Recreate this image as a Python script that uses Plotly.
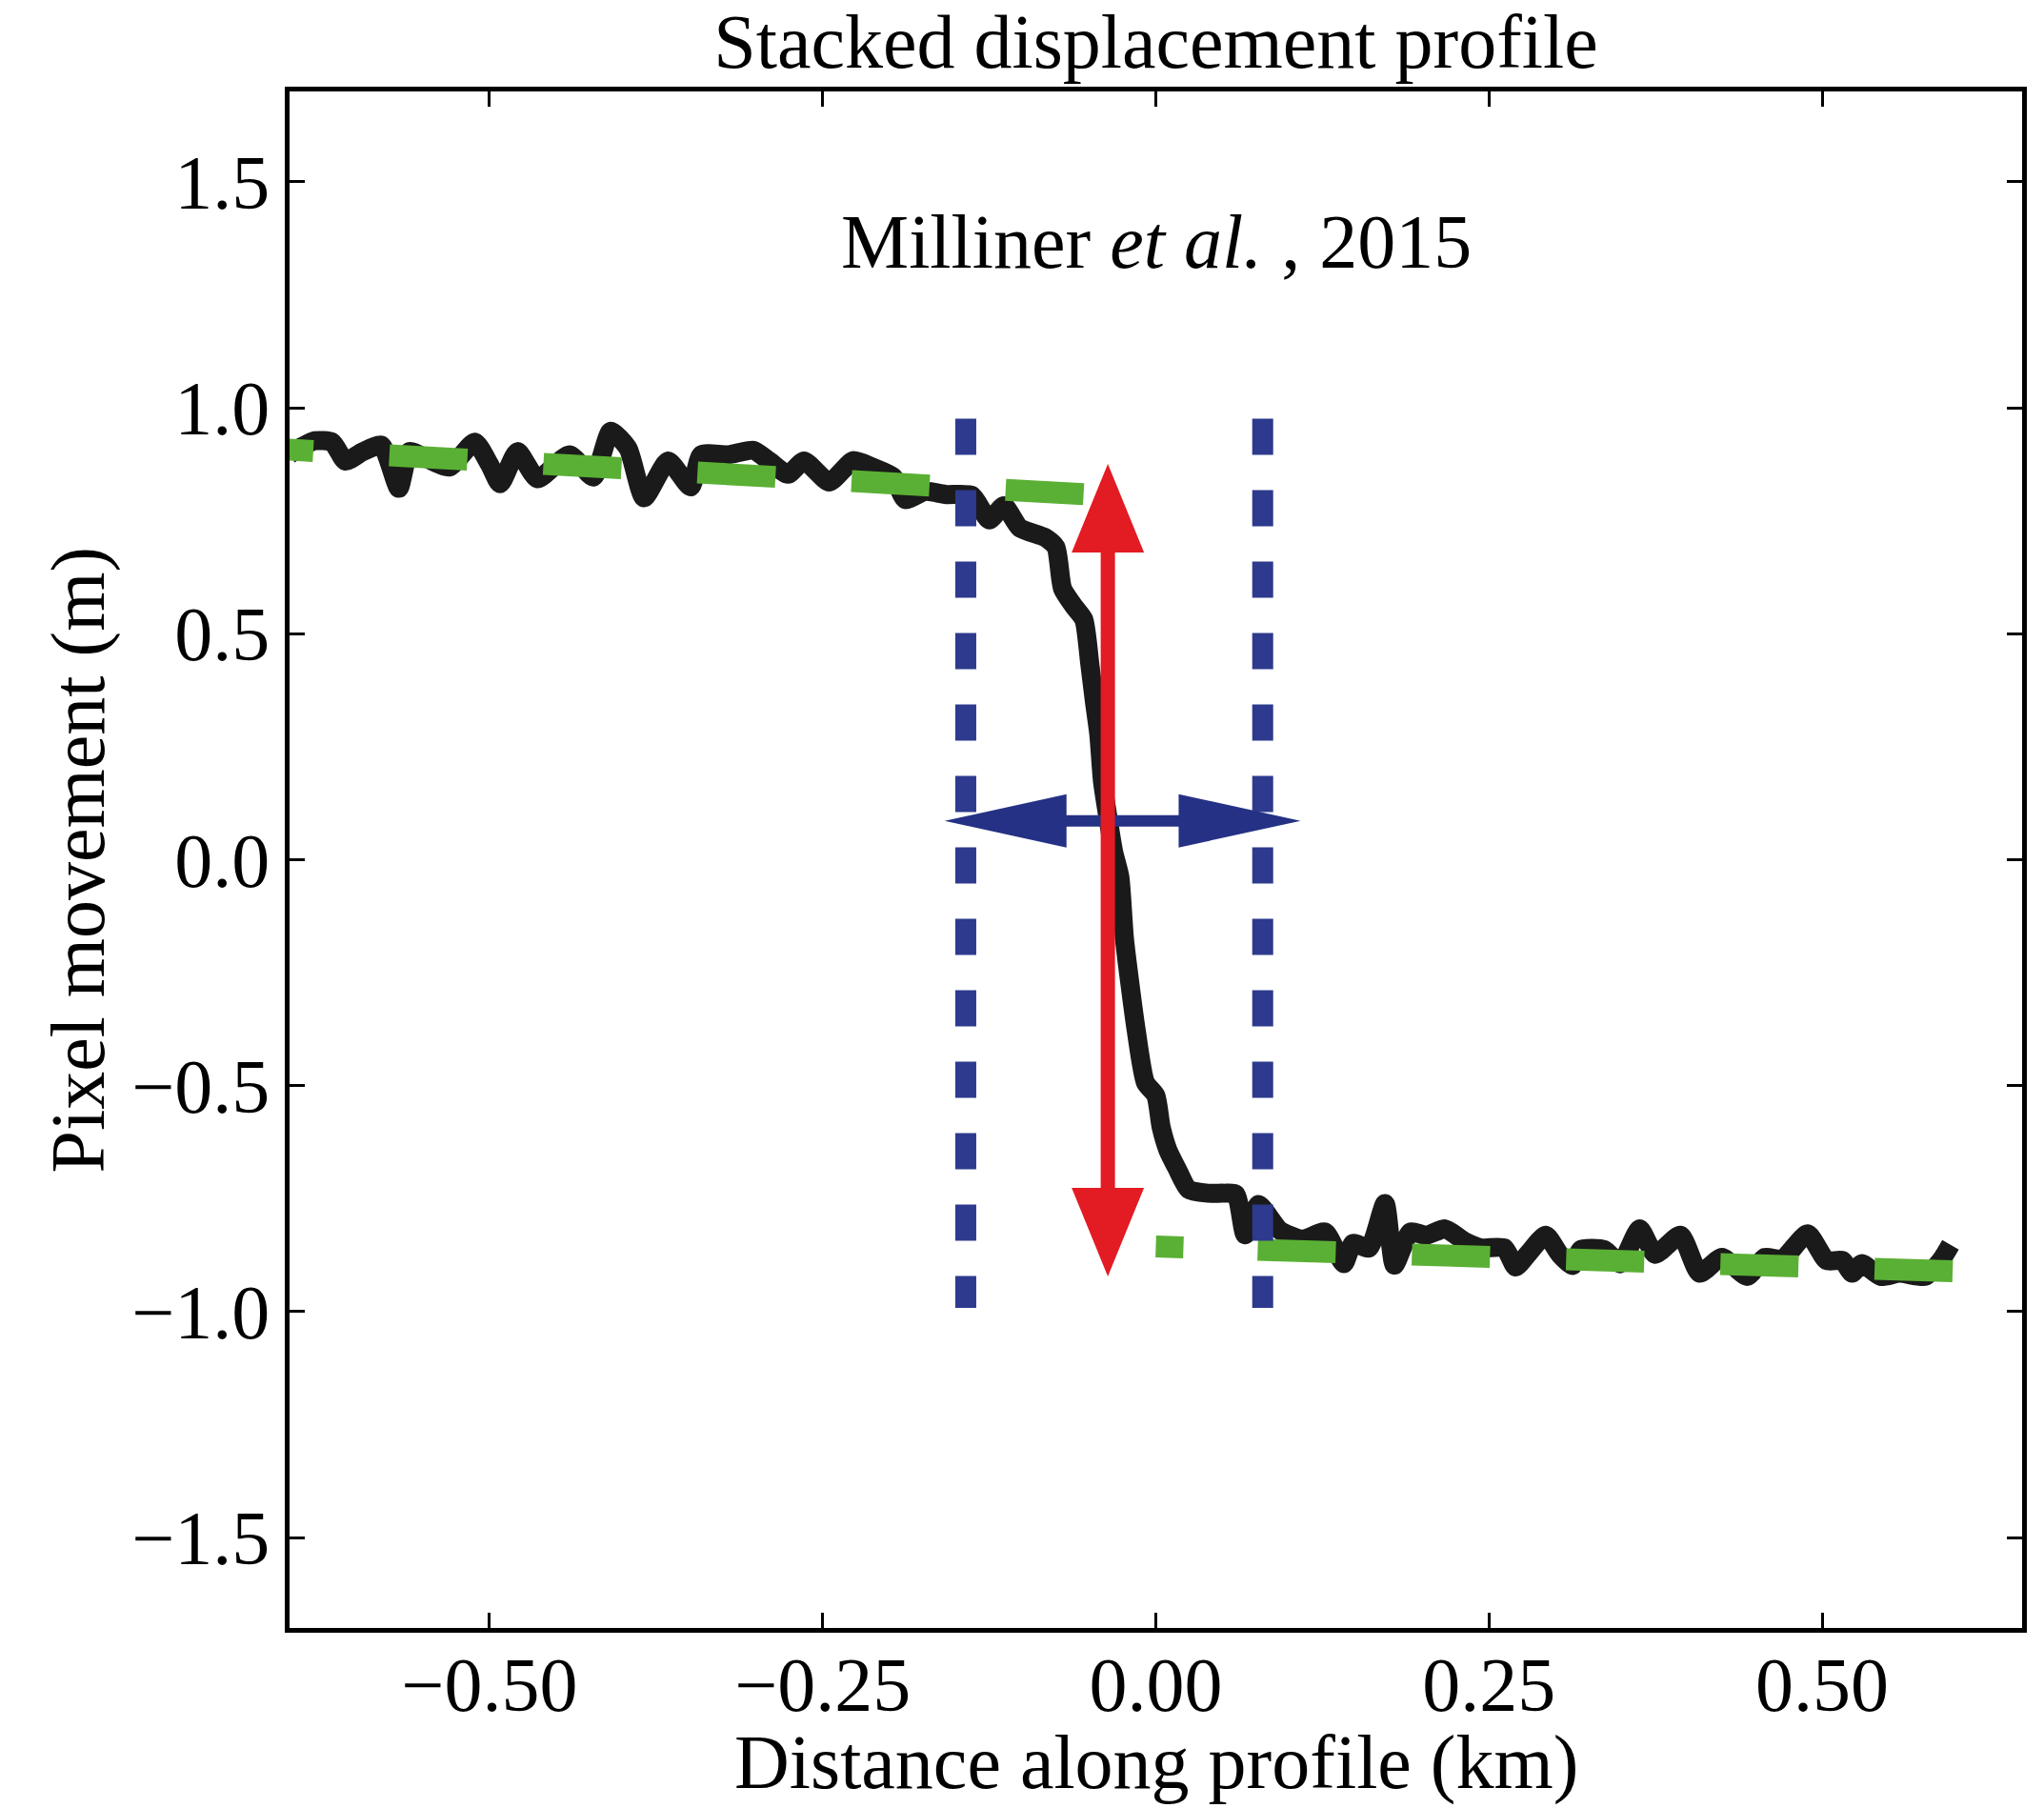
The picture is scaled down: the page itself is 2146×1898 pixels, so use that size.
import plotly.graph_objects as go

# ---- data -------------------------------------------------------------
# stacked displacement profile across the rupture (km, m)
PROFILE_X = [-0.650, -0.640, -0.631, -0.618, -0.608, -0.595, -0.581, -0.568, -0.560, -0.548,
             -0.530, -0.511, -0.500, -0.492, -0.479, -0.464, -0.440, -0.422, -0.409, -0.396,
             -0.384, -0.366, -0.349, -0.341, -0.321, -0.302, -0.290, -0.276, -0.264, -0.245,
             -0.227, -0.212, -0.197, -0.188, -0.173, -0.157, -0.138, -0.125, -0.114, -0.102,
             -0.083, -0.075, -0.070, -0.061, -0.054, -0.0495, -0.046, -0.0428, -0.040, -0.0364,
             -0.0317, -0.027, -0.0235, -0.0147, -0.0078, 0.000, 0.004, 0.009, 0.016, 0.0244,
             0.039, 0.051, 0.060, 0.067, 0.077, 0.093, 0.110, 0.127, 0.141, 0.148,
             0.160, 0.172, 0.179, 0.191, 0.203, 0.217, 0.232, 0.244, 0.2615, 0.270,
             0.279, 0.2925, 0.303, 0.3127, 0.3187, 0.3365, 0.3485, 0.363, 0.3747, 0.3937,
             0.408, 0.4248, 0.4438, 0.457, 0.470, 0.489, 0.5034, 0.5153, 0.5224, 0.5296,
             0.5439, 0.5582, 0.5772, 0.589, 0.5963]
PROFILE_Y = [0.897, 0.915, 0.927, 0.924, 0.882, 0.903, 0.917, 0.822, 0.903, 0.889,
             0.869, 0.924, 0.875, 0.832, 0.903, 0.843, 0.896, 0.847, 0.948, 0.910,
             0.801, 0.882, 0.825, 0.896, 0.896, 0.906, 0.882, 0.853, 0.882, 0.836,
             0.883, 0.868, 0.847, 0.797, 0.815, 0.808, 0.806, 0.752, 0.783, 0.734,
             0.713, 0.692, 0.600, 0.559, 0.531, 0.432, 0.348, 0.278, 0.173, 0.1025,
             0.018, -0.038, -0.176, -0.378, -0.493, -0.522, -0.592, -0.642, -0.684, -0.729,
             -0.738, -0.738, -0.740, -0.830, -0.763, -0.820, -0.840, -0.824, -0.894, -0.849,
             -0.859, -0.761, -0.897, -0.824, -0.831, -0.817, -0.845, -0.859, -0.859, -0.901,
             -0.873, -0.831, -0.873, -0.898, -0.863, -0.863, -0.894, -0.817, -0.873, -0.831,
             -0.915, -0.880, -0.922, -0.880, -0.884, -0.828, -0.887, -0.887, -0.915, -0.894,
             -0.922, -0.915, -0.922, -0.887, -0.852]

# linear fits to the far-field offsets on each side
FIT_LEFT_X = [-0.6907, 0.0]
FIT_LEFT_Y = [0.914, 0.800]
FIT_RIGHT_X = [0.0, 0.600]
FIT_RIGHT_Y = [-0.856, -0.911]

# width of the deformation zone (dotted bounds)
ZONE_X = [-0.1426, 0.0802]
ZONE_Y = [0.976, -0.992]

# offset arrow (vertical) and zone-width arrow (horizontal)
OFFSET_X = -0.036
OFFSET_Y = [-0.922, 0.876]
WIDTH_X = [-0.1585, 0.1086]
WIDTH_Y = 0.086

X_TICKS = [-0.50, -0.25, 0.00, 0.25, 0.50]
X_TICK_TEXT = ["\u22120.50", "\u22120.25", "0.00", "0.25", "0.50"]
Y_TICKS = [-1.5, -1.0, -0.5, 0.0, 0.5, 1.0, 1.5]
Y_TICK_TEXT = ["\u22121.5", "\u22121.0", "\u22120.5", "0.0", "0.5", "1.0", "1.5"]

# ---- geometry / style --------------------------------------------------
W, H = 2146, 1898
M_L, M_R, M_T, M_B = 304, 23, 96, 189
X_RANGE = [-0.65, 0.65]
Y_RANGE = [-1.7, 1.7]
DX_PER_PX = (X_RANGE[1] - X_RANGE[0]) / (W - M_L - M_R)
DY_PER_PX = (Y_RANGE[1] - Y_RANGE[0]) / (H - M_T - M_B)

FONT = "Liberation Serif, Times New Roman, serif"
BLACK = "#1a1a1a"
GREEN = "#5ab034"
NAVY = "#2d3a8d"
NAVY_ARROW = "#243184"
RED = "#e31b23"


def vertical_double_arrow(x, y0, y1, head_len_px, head_half_px, shaft_half_px):
    L = head_len_px * DY_PER_PX
    hw = head_half_px * DX_PER_PX
    s = shaft_half_px * DX_PER_PX
    xs = [x, x + hw, x + s, x + s, x + hw, x, x - hw, x - s, x - s, x - hw, x]
    ys = [y1, y1 - L, y1 - L, y0 + L, y0 + L, y0, y0 + L, y0 + L, y1 - L, y1 - L, y1]
    return xs, ys


def horizontal_double_arrow(x0, x1, y, head_len_px, head_half_px, shaft_half_px):
    L = head_len_px * DX_PER_PX
    hh = head_half_px * DY_PER_PX
    s = shaft_half_px * DY_PER_PX
    xs = [x0, x0 + L, x0 + L, x1 - L, x1 - L, x1, x1 - L, x1 - L, x0 + L, x0 + L, x0]
    ys = [y, y + hh, y + s, y + s, y + hh, y, y - hh, y - s, y - s, y - hh, y]
    return xs, ys


fig = go.Figure()

# displacement profile
fig.add_trace(go.Scatter(
    x=PROFILE_X, y=PROFILE_Y, mode="lines",
    line=dict(color=BLACK, width=20, shape="spline", smoothing=0.6),
    hoverinfo="skip"))

# far-field fits
fig.add_trace(go.Scatter(
    x=FIT_LEFT_X, y=FIT_LEFT_Y, mode="lines",
    line=dict(color=GREEN, width=23, dash="82px,80px"), hoverinfo="skip"))
fig.add_trace(go.Scatter(
    x=FIT_RIGHT_X, y=FIT_RIGHT_Y, mode="lines",
    line=dict(color=GREEN, width=23,
              dash="29px,78px,82px,80px,82px,80px,82px,80px,82px,80px,82px,80px"),
    hoverinfo="skip"))

# deformation zone bounds
for zx in ZONE_X:
    fig.add_trace(go.Scatter(
        x=[zx, zx], y=ZONE_Y, mode="lines",
        line=dict(color=NAVY, width=22, dash="38px,37px"), hoverinfo="skip"))

# zone width arrow
ax, ay = horizontal_double_arrow(WIDTH_X[0], WIDTH_X[1], WIDTH_Y, 128, 28, 6)
fig.add_trace(go.Scatter(x=ax, y=ay, mode="lines", fill="toself",
                         fillcolor=NAVY_ARROW, line=dict(width=0, color=NAVY_ARROW),
                         hoverinfo="skip"))

# offset arrow
rx, ry = vertical_double_arrow(OFFSET_X, OFFSET_Y[0], OFFSET_Y[1], 93, 38, 7.5)
fig.add_trace(go.Scatter(x=rx, y=ry, mode="lines", fill="toself",
                         fillcolor=RED, line=dict(width=0, color=RED),
                         hoverinfo="skip"))

axis_common = dict(
    showgrid=False, zeroline=False, showline=True, linewidth=4.5, linecolor="black",
    mirror="ticks", ticks="inside", ticklen=16, tickwidth=2.5, tickcolor="black",
    tickfont=dict(family=FONT, size=80, color="black"),
)

fig.update_xaxes(range=X_RANGE, tickvals=X_TICKS, ticktext=X_TICK_TEXT,
                 ticklabelstandoff=-14, **axis_common)
fig.update_yaxes(range=Y_RANGE, tickvals=Y_TICKS, ticktext=Y_TICK_TEXT, **axis_common)

fig.update_layout(
    width=W, height=H,
    margin=dict(l=M_L, r=M_R, t=M_T, b=M_B),
    paper_bgcolor="white", plot_bgcolor="white",
    showlegend=False,
    font=dict(family=FONT, size=80, color="black"),
    title=dict(text="Stacked displacement profile", x=0.5, xref="paper",
               y=1 - 43 / H, yref="container", yanchor="middle",
               font=dict(family=FONT, size=80, color="black")),
    annotations=[
        dict(text="Milliner <i>et al.</i> , 2015", x=0.0, y=1.367, xref="x", yref="y",
             showarrow=False, xanchor="center", yanchor="middle",
             font=dict(family=FONT, size=80, color="black")),
        dict(text="Distance along profile (km)", x=0.5, y=-0.088, xref="paper", yref="paper",
             showarrow=False, xanchor="center", yanchor="middle",
             font=dict(family=FONT, size=80, color="black")),
        dict(text="Pixel movement (m)", x=-0.122, y=0.5, xref="paper", yref="paper",
             showarrow=False, xanchor="center", yanchor="middle", textangle=-90,
             font=dict(family=FONT, size=80, color="black")),
    ],
)

fig.write_html("out.html")
